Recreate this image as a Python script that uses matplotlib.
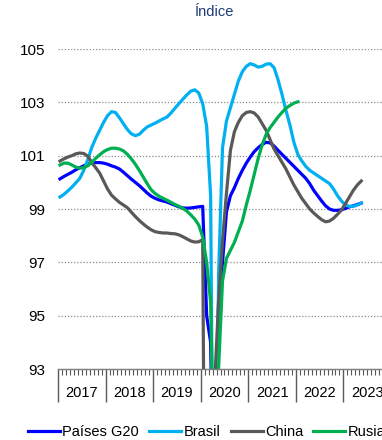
import numpy as np
import matplotlib
matplotlib.use("Agg")
import matplotlib.pyplot as plt
from matplotlib.ticker import MultipleLocator, FixedLocator, NullFormatter
import matplotlib.transforms as mtransforms

plt.rcParams['font.family'] = ['Liberation Sans', 'DejaVu Sans']

years = ["2017", "2018", "2019", "2020", "2021", "2022", "2023"]
y_ticks = [93, 95, 97, 99, 101, 103, 105]

# Monthly index values, starting January 2017
g20 = [100.13, 100.22, 100.30, 100.38, 100.47, 100.55, 100.62, 100.68, 100.72, 100.74, 100.74, 100.72,
       100.68, 100.62, 100.57, 100.50, 100.38, 100.25, 100.12, 100.00, 99.88, 99.74, 99.60, 99.48,
       99.40, 99.34, 99.30, 99.26, 99.20, 99.14, 99.08, 99.04, 99.03, 99.04, 99.06, 99.08,
       99.10, 95.00, 94.00, 85.00, 95.50, 97.00, 98.90, 99.50, 99.80, 100.15, 100.45, 100.72,
       100.95, 101.15, 101.30, 101.42, 101.50, 101.48, 101.36, 101.20, 101.05, 100.90, 100.75, 100.60,
       100.45, 100.30, 100.15, 99.95, 99.70, 99.50, 99.30, 99.12, 99.00, 98.95, 98.95, 98.97,
       99.02, 99.08, 99.12, 99.17, 99.22]

brasil = [99.45, 99.55, 99.68, 99.82, 99.98, 100.15, 100.45, 100.85, 101.30, 101.65, 101.95, 102.25,
          102.50, 102.65, 102.62, 102.42, 102.20, 101.98, 101.82, 101.75, 101.80, 101.95, 102.08, 102.15,
          102.22, 102.30, 102.38, 102.45, 102.60, 102.78, 102.95, 103.12, 103.28, 103.42, 103.47, 103.35,
          102.95, 102.10, 99.50, 80.00, 96.50, 101.30, 102.30, 102.80, 103.30, 103.80, 104.15, 104.35,
          104.45, 104.40, 104.32, 104.35, 104.43, 104.45, 104.30, 103.85, 103.30, 102.70, 102.15, 101.50,
          101.05, 100.80, 100.60, 100.45, 100.35, 100.25, 100.15, 100.05, 99.95, 99.75, 99.50, 99.30,
          99.15, 99.10, 99.10, 99.15, 99.22]

china = [100.80, 100.88, 100.95, 101.00, 101.07, 101.10, 101.08, 100.98, 100.75, 100.55, 100.35, 100.05,
         99.75, 99.52, 99.38, 99.25, 99.15, 99.05, 98.88, 98.72, 98.57, 98.44, 98.32, 98.22,
         98.15, 98.12, 98.10, 98.10, 98.08, 98.07, 98.03, 97.96, 97.88, 97.80, 97.76, 97.77,
         97.85, 75.00, 78.00, 92.40, 95.50, 97.80, 99.60, 101.20, 101.90, 102.25, 102.50, 102.62,
         102.65, 102.60, 102.45, 102.20, 101.95, 101.60, 101.25, 101.00, 100.75, 100.50, 100.20, 99.90,
         99.65, 99.40, 99.20, 99.00, 98.85, 98.72, 98.60, 98.52, 98.55, 98.65, 98.80, 98.96,
         99.20, 99.45, 99.70, 99.90, 100.05]

rusia = [100.65, 100.72, 100.72, 100.65, 100.57, 100.53, 100.55, 100.62, 100.75, 100.90, 101.03, 101.15,
         101.23, 101.28, 101.28, 101.25, 101.18, 101.05, 100.88, 100.68, 100.45, 100.20, 99.95, 99.72,
         99.58, 99.48, 99.40, 99.33, 99.25, 99.17, 99.10, 99.02, 98.92, 98.78, 98.62, 98.40,
         97.95, 97.00, 95.50, 88.00, 93.00, 96.30, 97.15, 97.45, 97.75, 98.15, 98.55, 99.15,
         99.70, 100.30, 100.90, 101.40, 101.80, 102.05, 102.25, 102.45, 102.62, 102.78, 102.88, 102.97,
         103.02]

series = [("Países G20", g20, "#0000FF"),
          ("Brasil", brasil, "#00B0F0"),
          ("China", china, "#595959"),
          ("Rusia", rusia, "#00B050")]

fig = plt.figure(figsize=(3.82, 4.40), dpi=100)
W, H = 382, 440
left, right, top, bottom = 58, 391, 49, 369
ax = fig.add_axes([left / W, 1 - bottom / H, (right - left) / W, (bottom - top) / H])

for name, vals, col in series:
    x = np.arange(len(vals)) + 0.5
    ax.plot(x, vals, color=col, lw=2.3, label=name, solid_joinstyle='round')

ax.set_xlim(0, 84)
ax.set_ylim(93, 105)

for s in ["left", "right", "top"]:
    ax.spines[s].set_visible(False)
ax.spines["bottom"].set_color("#7F7F7F")
ax.spines["bottom"].set_linewidth(1.0)

ax.yaxis.set_major_locator(FixedLocator(y_ticks))
ax.set_yticklabels([str(v) for v in y_ticks])
ax.tick_params(axis="y", length=0, pad=9, labelsize=11, labelcolor="#000000")
ax.grid(axis="y", color="#8C8C8C", linestyle=(0, (1, 1.5)), linewidth=0.9)
ax.set_axisbelow(True)

ax.xaxis.set_major_locator(MultipleLocator(12))
ax.xaxis.set_minor_locator(MultipleLocator(1))
ax.xaxis.set_major_formatter(NullFormatter())
ax.tick_params(axis="x", which="major", length=24, width=1.0, color="#595959", direction="out")
ax.tick_params(axis="x", which="minor", length=4.5, width=0.8, color="#595959", direction="out")

trans = mtransforms.blended_transform_factory(ax.transData, ax.transAxes)
for i, yr in enumerate(years):
    ax.text(12 * i + 6, -24 / (bottom - top), yr, transform=trans, ha="center", va="center",
            fontsize=10.5, color="#000000", clip_on=False)

fig.text(215 / W, 1 - 12 / H, "Índice", ha="center", va="center", fontsize=10.5, color="#1F3C7A")

leg = fig.legend(loc="center left", bbox_to_anchor=(28 / W, 1 - 432 / H), ncol=4, frameon=False,
                 fontsize=10.5, handlelength=2.2, handletextpad=0.15, columnspacing=0.7,
                 borderaxespad=0, borderpad=0)

fig.savefig("out.png", dpi=100)
